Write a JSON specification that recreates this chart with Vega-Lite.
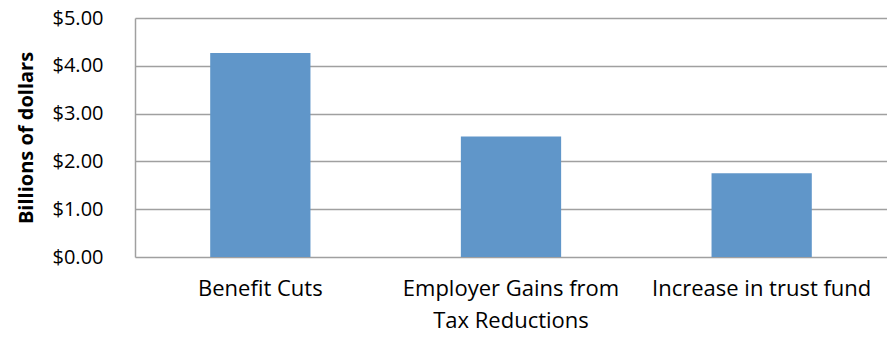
{
  "$schema": "https://vega.github.io/schema/vega-lite/v6.json",
  "width": 752,
  "height": 239,
  "autosize": "none",
  "padding": {"left": 135, "top": 18, "right": 0, "bottom": 84},
  "background": "white",
  "config": {
    "view": {"stroke": null},
    "font": "Open Sans"
  },
  "data": {
    "values": [
      {"category": "Benefit Cuts", "value": 4.27},
      {"category": "Employer Gains from Tax Reductions", "value": 2.52},
      {"category": "Increase in trust fund", "value": 1.75}
    ]
  },
  "mark": {"type": "bar", "color": "#6096c9"},
  "encoding": {
    "x": {
      "field": "category",
      "type": "nominal",
      "sort": null,
      "scale": {"paddingInner": 0.6, "paddingOuter": 0.3},
      "axis": {
        "title": null,
        "labelAngle": 0,
        "domain": false,
        "ticks": false,
        "labelPadding": 21,
        "labelFontSize": 22,
        "labelColor": "#000000",
        "labelLineHeight": 32,
        "labelBaseline": "top",
        "labelLimit": 0,
        "labelExpr": "datum.label == 'Employer Gains from Tax Reductions' ? ['Employer Gains from', 'Tax Reductions'] : datum.label"
      }
    },
    "y": {
      "field": "value",
      "type": "quantitative",
      "scale": {"domain": [0, 5], "nice": false},
      "axis": {
        "title": "Billions of dollars",
        "titleFontSize": 20,
        "titleFontWeight": "bold",
        "titleColor": "#000000",
        "titlePadding": 16,
        "values": [0, 1, 2, 3, 4, 5],
        "format": "$.2f",
        "labelFontSize": 20,
        "labelColor": "#000000",
        "labelPadding": 32,
        "ticks": false,
        "domain": true,
        "domainColor": "#a0a0a0",
        "domainWidth": 1.5,
        "grid": true,
        "gridColor": "#a0a0a0",
        "gridWidth": 1.5
      }
    }
  }
}
